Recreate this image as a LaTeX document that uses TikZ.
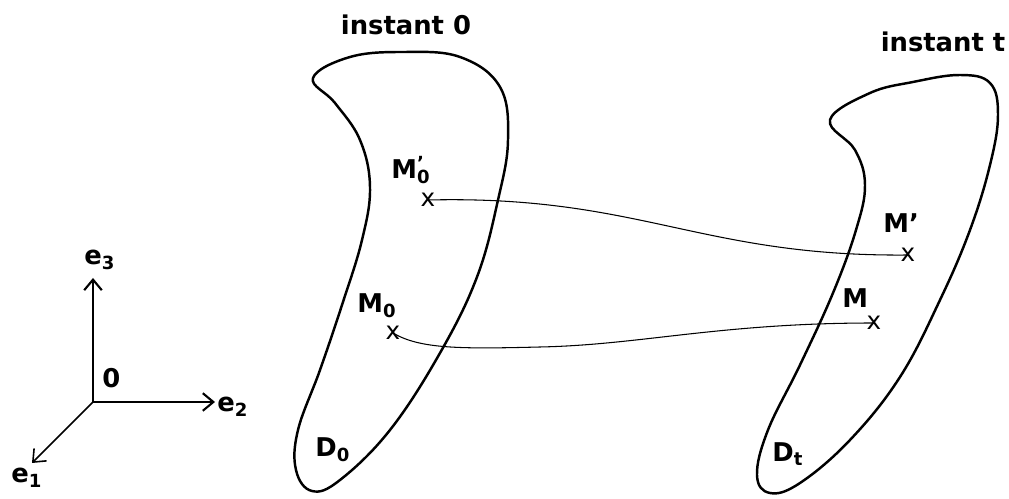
\documentclass[tikz,border=0pt]{standalone}
\usepackage{fontspec}
\setmainfont{DejaVu Sans}
\usetikzlibrary{arrows.meta}

\tikzset{
    lbl/.style={font=\bfseries\fontsize{14.7}{17}\selectfont, inner sep=0pt},
    cross/.style={font=\fontsize{14}{16}\selectfont, inner sep=0pt},
    bodyline/.style={line width=1.4pt, line join=round},
    traj/.style={line width=0.6pt},
}
\newcommand{\primesub}[1]{\rlap{\textsuperscript{'}}\textsubscript{#1}}

\begin{document}
\begin{tikzpicture}[x=0.02cm, y=-0.02cm, >={Straight Barb[length=6pt, width=10pt]}]
    \useasboundingbox (0,0) rectangle (1009,499);

    % frame
    \coordinate (O) at (93,402);
    \coordinate (e3end) at (93,278);
    \coordinate (e2end) at (215,402);
    \coordinate (e1end) at (32,463);
    \draw[->, line width=1.2pt] (O) -- (e3end);
    \draw[->, line width=1.2pt] (O) -- (e2end);
    \draw[->, line width=0.9pt] (O) -- (e1end);
    \node[lbl, anchor=base west] (e3lbl) at (84,265) {e\textsubscript{3}};
    \node[lbl, anchor=base west] (Olbl) at (102,388) {0};
    \node[lbl, anchor=base west] (e2lbl) at (217,412) {e\textsubscript{2}};
    \node[lbl, anchor=base west] (e1lbl) at (11,483) {e\textsubscript{1}};

    % domain at instant 0
    \draw[bodyline] plot[smooth cycle, tension=0.65] coordinates {
        (313,78) (350,57) (403,52) (460,57) (500,87) (508,140) (498,200)
        (477,277) (440,353) (390,430) (340,480) (312,491) (296,470)
        (298,430) (320,370) (342,305) (362,240) (370,187) (360,140)
        (335,103)};
    \node[lbl] (inst0) at (406,25) {instant 0};
    \node[lbl, anchor=base west] (D0lbl) at (315,457) {D\textsubscript{0}};

    % domain at instant t
    \draw[bodyline] plot[smooth cycle, tension=0.65] coordinates {
        (830,120) (870,93) (913,82) (960,75) (990,83) (998,115) (990,165)
        (970,230) (940,300) (900,377) (850,440) (800,483) (770,493)
        (757,475) (768,430) (800,365) (833,293) (856,230) (865,185)
        (855,150)};
    \node[lbl] (instt) at (943,42) {instant t};
    \node[lbl, anchor=base west] (Dtlbl) at (772,462) {D\textsubscript{t}};

    % points
    \node[cross] (m0p) at (428,200) {x};
    \node[cross] (m0) at (393,333) {x};
    \node[cross] (mp) at (908,255) {x};
    \node[cross] (m) at (874,323) {x};
    \node[lbl, anchor=base west] (m0plbl) at (391,179) {M\primesub{0}};
    \node[lbl, anchor=base west] (m0lbl) at (357,313) {M\textsubscript{0}};
    \node[lbl, anchor=base west] (mplbl) at (883,233) {M'};
    \node[lbl, anchor=base west] (mlbl) at (842,308) {M};

    % trajectories
    \draw[traj] (m0p.center) .. controls (640,195) and (700,257) .. (mp.center);
    \draw[traj] (m0.center) .. controls (420,349) and (460,349) .. (540,347)
        .. controls (640,345) and (720,323) .. (m.center);
\end{tikzpicture}
\end{document}
